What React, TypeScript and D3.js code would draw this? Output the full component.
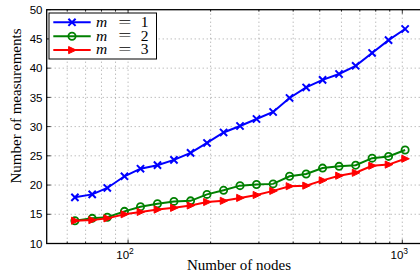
import React from "react";
import * as d3 from "d3";

// number of nodes (x, log scale)
const nodes = [64, 74, 84, 97, 111, 128, 147, 169, 194, 223, 256, 294, 338, 388, 446, 512, 588, 676, 776, 891, 1024];
// number of measurements per m
const m1 = [17.9, 18.4, 19.5, 21.5, 22.8, 23.4, 24.3, 25.5, 27.2, 29.0, 30.1, 31.3, 32.5, 34.9, 36.7, 38.0, 39.0, 40.4, 42.6, 44.8, 46.7];
const m2 = [13.9, 14.3, 14.5, 15.5, 16.3, 16.8, 17.2, 17.3, 18.4, 19.1, 19.9, 20.1, 20.2, 21.5, 21.9, 22.9, 23.2, 23.4, 24.6, 24.9, 26.0];
const m3 = [13.9, 14.0, 14.3, 15.0, 15.4, 15.8, 16.1, 16.5, 17.1, 17.3, 17.8, 18.3, 19.0, 19.8, 19.9, 20.8, 21.6, 22.1, 23.3, 23.5, 24.5];
const yTicks = [10, 15, 20, 25, 30, 35, 40, 45, 50];
const xMajor = [100, 1000];
const xMinor = [60, 70, 80, 90, 200, 300, 400, 500, 600, 700, 800, 900];

const series = [
  { label: "1", values: m1, color: "#0000ff", marker: "x" },
  { label: "2", values: m2, color: "#008000", marker: "o" },
  { label: "3", values: m3, color: "#ff0000", marker: ">" },
];

const W = 420, H = 272;
const left = 46.7, top = 9.7, bottom = 243.5, right = 421;

function Marker({ type, x, y, color }: { type: string; x: number; y: number; color: string }) {
  if (type === "x") {
    const s = 3.6;
    return <path d={`M${x - s},${y - s}L${x + s},${y + s}M${x - s},${y + s}L${x + s},${y - s}`} stroke={color} strokeWidth={2} />;
  }
  if (type === "o") {
    return <circle cx={x} cy={y} r={3.6} fill="none" stroke={color} strokeWidth={1.8} />;
  }
  const s = 4.2;
  return <path d={`M${x + s},${y}L${x - s * 0.8},${y - s * 0.85}L${x - s * 0.8},${y + s * 0.85}Z`} fill={color} stroke={color} strokeWidth={1} />;
}

export default function App() {
  const x = d3.scaleLog().domain([50.5, 1170]).range([left, right]);
  const y = d3.scaleLinear().domain([10, 50]).range([bottom, top]);
  const line = d3.line<number>().x((_, i) => x(nodes[i])).y((d) => y(d));
  const sans = "'Liberation Sans', Arial, sans-serif";
  const serif = "'Liberation Serif', 'Times New Roman', serif";

  return (
    <svg width={W} height={H} style={{ position: "absolute", left: 0, top: 0, background: "#fff" }}>
      <rect width={W} height={H} fill="#fff" />
      {/* grid */}
      <g stroke="#444" strokeWidth={0.7} strokeDasharray="1 3" opacity={0.7}>
        {yTicks.slice(1, -1).map((t) => (
          <line key={"gy" + t} x1={left} x2={right} y1={y(t)} y2={y(t)} />
        ))}
        {[...xMinor, ...xMajor].map((t) => (
          <line key={"gx" + t} x1={x(t)} x2={x(t)} y1={top} y2={bottom} />
        ))}
      </g>
      {/* ticks */}
      <g stroke="#000" strokeWidth={0.8}>
        {yTicks.map((t) => (
          <line key={"ty" + t} x1={left} x2={left + 4} y1={y(t)} y2={y(t)} />
        ))}
        {xMajor.map((t) => (
          <g key={"tx" + t}>
            <line x1={x(t)} x2={x(t)} y1={bottom} y2={bottom - 4} />
            <line x1={x(t)} x2={x(t)} y1={top} y2={top + 4} />
          </g>
        ))}
        {xMinor.map((t) => (
          <g key={"tm" + t}>
            <line x1={x(t)} x2={x(t)} y1={bottom} y2={bottom - 2} />
            <line x1={x(t)} x2={x(t)} y1={top} y2={top + 2} />
          </g>
        ))}
      </g>
      {/* series */}
      {series.map((s) => (
        <g key={s.label}>
          <path d={line(s.values) || ""} fill="none" stroke={s.color} strokeWidth={2} />
          {s.values.map((v, i) => (
            <Marker key={i} type={s.marker} x={x(nodes[i])} y={y(v)} color={s.color} />
          ))}
        </g>
      ))}
      {/* frame */}
      <rect x={left} y={top} width={right - left} height={bottom - top} fill="none" stroke="#000" strokeWidth={1.3} />
      {/* y tick labels */}
      {yTicks.map((t) => (
        <text key={"ly" + t} x={42.5} y={y(t)} dy="0.36em" textAnchor="end" fontFamily={sans} fontSize={11.5} fill="#000">
          {t}
        </text>
      ))}
      {/* x tick labels */}
      {xMajor.map((t) => (
        <text key={"lx" + t} x={x(t) - 3} y={259} textAnchor="middle" fontFamily={sans} fontSize={11.5} fill="#000">
          10
          <tspan dy={-5} fontSize={8.5}>{Math.round(Math.log10(t))}</tspan>
        </text>
      ))}
      <text x={239} y={270} textAnchor="middle" fontFamily={serif} fontSize={15} fill="#000">
        Number of nodes
      </text>
      <text transform="translate(20.5,106) rotate(-90)" textAnchor="middle" fontFamily={serif} fontSize={15} fill="#000">
        Number of measurements
      </text>
      {/* legend */}
      <rect x={49} y={13} width={107.5} height={46} fill="#fff" stroke="#000" strokeWidth={1} />
      {series.map((s, i) => {
        const ly = 22.3 + i * 13.9;
        return (
          <g key={"lg" + s.label}>
            <line x1={53.3} x2={90.7} y1={ly} y2={ly} stroke={s.color} strokeWidth={2} />
            <Marker type={s.marker} x={72} y={ly} color={s.color} />
            <text x={96} y={ly + 4.3} fontFamily={serif} fontStyle="italic" fontSize={15.5} fill="#000">m</text>
            <text x={0} y={ly + 4.3} transform={`translate(124.8,0) scale(1.5,1)`} textAnchor="middle" fontFamily={serif} fontSize={15.5} fill="#000">=</text>
            <text x={144.5} y={ly + 4.3} textAnchor="middle" fontFamily={serif} fontSize={15.5} fill="#000">{s.label}</text>
          </g>
        );
      })}
    </svg>
  );
}
